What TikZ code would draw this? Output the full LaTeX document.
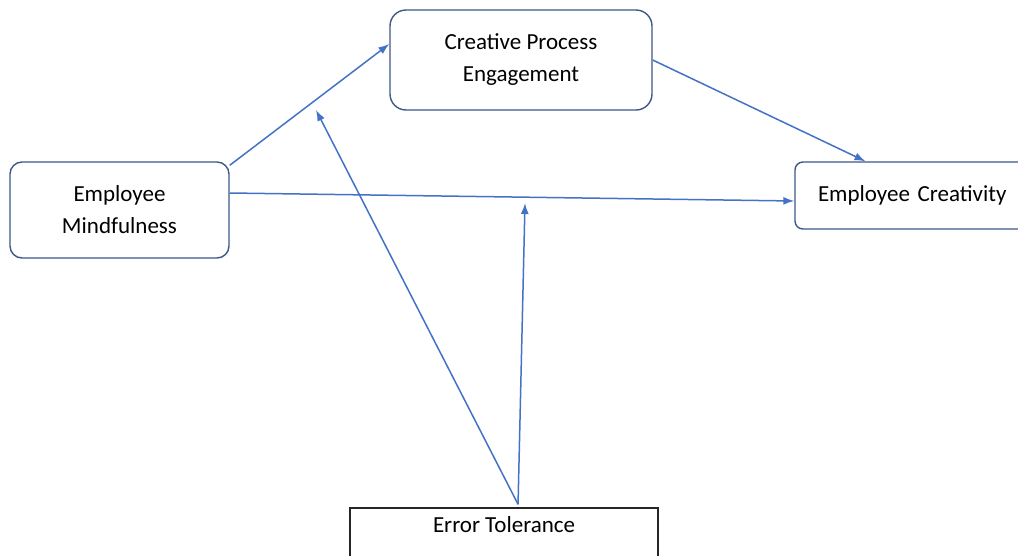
\documentclass[tikz,border=0pt]{standalone}
\usepackage{fontspec}
\setmainfont{Carlito}
\usetikzlibrary{arrows.meta}
\definecolor{arrowblue}{RGB}{68,114,196}
\definecolor{boxline}{RGB}{62,88,135}
\tikzset{
  rbox/.style={draw=boxline, line width=1.4pt, fill=white, align=center, font=\fontsize{23}{32}\selectfont, inner sep=0pt},
  link/.style={draw=arrowblue, line width=1.5pt, -{Latex[length=11pt,width=8pt]}}
}
\begin{document}
\begin{tikzpicture}[x=1pt,y=-1pt]
\useasboundingbox[fill=white] (0,0) rectangle (1018,555);
\node[rbox, rounded corners=12pt, minimum width=219pt, minimum height=96pt] (EM) at (119.5,210) {Employee\\Mindfulness};
\node[rbox, rounded corners=16pt, minimum width=262pt, minimum height=100pt] (CPE) at (521,60) {Creative Process\\Engagement};
\node[rbox, rounded corners=8pt, minimum width=235pt, minimum height=67pt, text width=235pt, align=left] (EC) at (912.5,195.5) {\hspace*{23pt}Employee Creativity};
\node[draw=black!85, line width=1.4pt, fill=white, font=\fontsize{23}{28}\selectfont, minimum width=308pt, text height=15pt, text depth=50pt, inner ysep=9pt, anchor=text] (ET) at (433,532) {Error Tolerance};
\coordinate (m1) at (316,110);
\coordinate (m2) at (525,203);
\draw[link] ([yshift=-4pt]EM.north east) -- ([yshift=16pt]CPE.west);
\draw[link] ([yshift=17pt]EM.east) -- ([yshift=-5.5pt]EC.west);
\draw[link] (CPE.east) -- ([xshift=-47pt]EC.north);
\draw[link] ([xshift=14pt,yshift=3pt]ET.north) -- (m1);
\draw[link] ([xshift=14pt,yshift=3pt]ET.north) -- (m2);
\end{tikzpicture}
\end{document}
